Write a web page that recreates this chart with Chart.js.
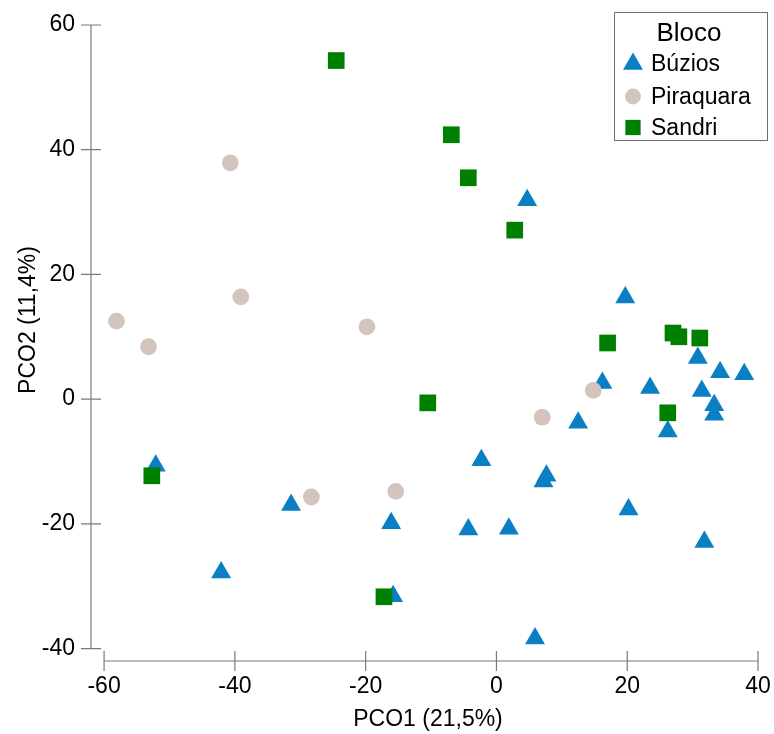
<!DOCTYPE html>
<html>
<head>
<meta charset="utf-8">
<script src="https://cdn.jsdelivr.net/npm/chart.js@4.4.1/dist/chart.umd.min.js"></script>
<style>
  html, body { margin: 0; padding: 0; background: #fff; }
  canvas { display: block; }
</style>
</head>
<body>
<canvas id="pco" width="774" height="734"></canvas>
<script>
// PCO scores
const buziosX = [4.7, 19.7, 30.8, 34.2, 37.9, 16.2, 23.5, 31.4, 33.3, 33.3, 12.5, 26.2, -52.1, -31.4, -16.1, -42.1, -15.8, -2.3, 7.65, 7.2, 20.2, -4.3, 1.9, 31.8, 5.9];
const buziosY = [31.9, 16.3, 6.6, 4.3, 4.0, 2.6, 1.8, 1.3, -1.0, -2.5, -3.8, -5.2, -10.7, -17.0, -19.9, -27.8, -31.6, -9.8, -12.3, -13.2, -17.7, -20.9, -20.8, -22.9, -38.4];

const piraquaraX = [-40.7, -39.1, -58.1, -53.2, -19.8, 7.0, 14.8, -28.3, -15.4];
const piraquaraY = [37.9, 16.4, 12.5, 8.4, 11.6, -2.9, 1.4, -15.7, -14.8];

const sandriX = [-24.5, -6.9, -4.3, 2.8, 17.0, 27.0, 27.9, 31.1, 26.2, -10.5, -52.7, -17.2];
const sandriY = [54.3, 42.4, 35.5, 27.1, 9.0, 10.6, 10.0, 9.8, -2.2, -0.6, -12.3, -31.7];

const xTicks = [-60, -40, -20, 0, 20, 40];
const yTicks = [-40, -20, 0, 20, 40, 60];

const legendTitle = 'Bloco';
const xTitle = 'PCO1 (21,5%)';
const yTitle = 'PCO2 (11,4%)';

const FONT = "'Liberation Sans', Arial, sans-serif";
const AXIS_COLOR = '#7a7a7a';

function toPoints(xs, ys) {
  return xs.map((x, i) => ({ x, y: ys[i] }));
}

// axis lines, crossing tick marks, axis titles and the boxed legend
const pcoDecor = {
  id: 'pcoDecor',
  afterDraw(chart) {
    const ctx = chart.ctx;
    const xs = chart.scales.x, ys = chart.scales.y;
    const axX = chart.chartArea.left;
    const axY = chart.chartArea.bottom;

    ctx.save();
    ctx.strokeStyle = AXIS_COLOR;
    ctx.lineWidth = 1.2;
    ctx.beginPath();
    ctx.moveTo(axX, ys.getPixelForValue(yTicks[yTicks.length - 1]));
    ctx.lineTo(axX, ys.getPixelForValue(yTicks[0]));
    yTicks.forEach(v => {
      const p = ys.getPixelForValue(v);
      ctx.moveTo(axX - 10, p);
      ctx.lineTo(axX + 10, p);
    });
    ctx.moveTo(xs.getPixelForValue(xTicks[0]), axY);
    ctx.lineTo(xs.getPixelForValue(xTicks[xTicks.length - 1]), axY);
    xTicks.forEach(v => {
      const p = xs.getPixelForValue(v);
      ctx.moveTo(p, axY - 10);
      ctx.lineTo(p, axY + 10);
    });
    ctx.stroke();

    // axis titles
    ctx.fillStyle = '#000';
    ctx.font = '23px ' + FONT;
    ctx.textAlign = 'center';
    ctx.textBaseline = 'middle';
    ctx.fillText(xTitle, 428, 720);
    ctx.save();
    ctx.translate(29, 320);
    ctx.rotate(-Math.PI / 2);
    ctx.fillText(yTitle, 0, 0);
    ctx.restore();

    // legend
    ctx.lineWidth = 1;
    ctx.strokeStyle = '#6e6e6e';
    ctx.strokeRect(614.5, 12.5, 153, 128);
    ctx.font = '26px ' + FONT;
    ctx.fillText(legendTitle, 689, 34);

    const rowY = [64, 96.5, 127.5];
    const legendRadius = { triangle: 11.5, circle: 7.9, rect: 10.8 };
    chart.data.datasets.forEach((ds, i) => {
      ctx.fillStyle = ds.backgroundColor;
      Chart.helpers.drawPoint(ctx, {
        pointStyle: ds.pointStyle, radius: legendRadius[ds.pointStyle], rotation: 0, borderWidth: 0
      }, 633, rowY[i]);
      ctx.fillStyle = '#000';
      ctx.font = '23px ' + FONT;
      ctx.textAlign = 'left';
      ctx.fillText(ds.label, 651, rowY[i] + 1);
    });
    ctx.restore();
  }
};

const tickFont = { family: FONT, size: 23 };

new Chart(document.getElementById('pco'), {
  type: 'scatter',
  data: {
    datasets: [
      { label: 'Búzios', data: toPoints(buziosX, buziosY), pointStyle: 'triangle',
        pointRadius: 11.5, backgroundColor: '#0a7fc3', borderWidth: 0, order: 3 },
      { label: 'Piraquara', data: toPoints(piraquaraX, piraquaraY), pointStyle: 'circle',
        pointRadius: 8.4, backgroundColor: '#d3c5bd', borderWidth: 0, order: 2 },
      { label: 'Sandri', data: toPoints(sandriX, sandriY), pointStyle: 'rect',
        pointRadius: 11.8, backgroundColor: '#008000', borderWidth: 0, order: 1 }
    ]
  },
  options: {
    responsive: false,
    animation: false,
    layout: { padding: { left: 0, right: 16, top: 25, bottom: 0 } },
    plugins: { legend: { display: false }, tooltip: { enabled: false } },
    scales: {
      x: {
        type: 'linear', min: -62, max: 40,
        afterBuildTicks: s => { s.ticks = xTicks.map(v => ({ value: v })); },
        afterFit: s => { s.height = 73; s.paddingLeft = 0; s.paddingRight = 0; },
        grid: { display: false, drawTicks: false },
        border: { display: false },
        ticks: { padding: 12, color: '#000', font: tickFont }
      },
      y: {
        type: 'linear', min: -42, max: 60,
        afterBuildTicks: s => { s.ticks = yTicks.map(v => ({ value: v })); },
        afterFit: s => { s.width = 91; s.paddingTop = 0; s.paddingBottom = 0; },
        grid: { display: false, drawTicks: false },
        border: { display: false },
        ticks: { padding: 16, color: '#000', font: tickFont }
      }
    }
  },
  plugins: [pcoDecor]
});
</script>
</body>
</html>
